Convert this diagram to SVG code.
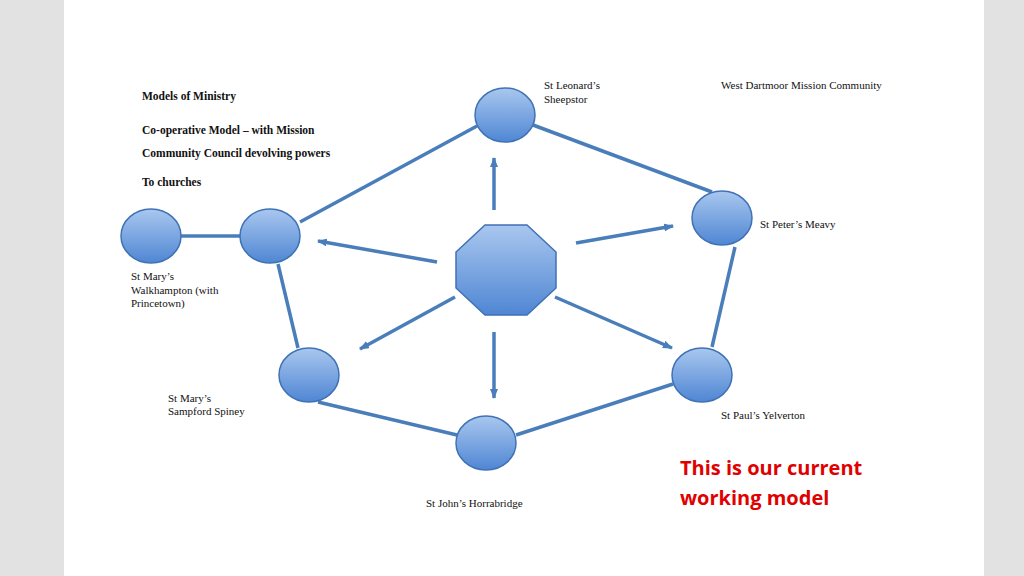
<svg xmlns="http://www.w3.org/2000/svg" width="1024" height="576" viewBox="0 0 1024 576">
<defs>
<linearGradient id="g" x1="0" y1="0" x2="0" y2="1"><stop offset="0" stop-color="#a9c7ef"/><stop offset="1" stop-color="#4f86d3"/></linearGradient>
<marker id="ah" markerWidth="10" markerHeight="8" refX="9" refY="4" orient="auto" markerUnits="userSpaceOnUse" viewBox="0 0 10 8"><path d="M0,0 L10,4 L0,8 z" fill="#4a7ebb"/></marker>
<style>
.n{fill:url(#g);stroke:#3f72b5;stroke-width:1.5}
.e{stroke:#4a7ebb;stroke-width:3.5;fill:none}
.a{stroke:#4a7ebb;stroke-width:3.5;marker-end:url(#ah)}
.t{font-family:"Liberation Serif",serif;font-size:11px;fill:#111}
.b{font-family:"Liberation Serif",serif;font-size:11.5px;font-weight:bold;fill:#111}
.r{font-family:"Open Sans","Liberation Sans",sans-serif;font-size:20px;font-weight:bold;fill:#e00000}
</style>
</defs>
<rect width="1024" height="576" fill="#e2e2e2"/>
<rect x="64" y="0" width="920" height="576" fill="#fff"/>
<g id="connectors">
<line class="e" x1="300" y1="222" x2="477" y2="126"/>
<line class="e" x1="533" y1="125" x2="712" y2="192"/>
<line class="e" x1="735" y1="247" x2="712" y2="347"/>
<line class="e" x1="673" y1="384" x2="516" y2="435"/>
<line class="e" x1="457" y1="435" x2="318" y2="402"/>
<line class="e" x1="298" y1="348" x2="278" y2="264"/>
<line class="e" x1="181" y1="236" x2="240" y2="236"/>
<line class="a" x1="494" y1="210" x2="494" y2="158"/>
<line class="a" x1="576" y1="243" x2="673" y2="226"/>
<line class="a" x1="437" y1="262" x2="318" y2="241"/>
<line class="a" x1="455" y1="297" x2="360" y2="349"/>
<line class="a" x1="494" y1="332" x2="494" y2="398"/>
<line class="a" x1="555" y1="297" x2="672" y2="348"/>
</g>
<g id="center"><polygon class="n" points="485,225 527,225 556,252 556,288 527,315 485,315 456,288 456,252"/></g>
<g id="leonard"><ellipse class="n" cx="505" cy="115" rx="30" ry="27"/><text class="t" x="544" y="89">St Leonard’s</text><text class="t" x="544" y="103">Sheepstor</text></g>
<g id="peter"><ellipse class="n" cx="722" cy="218" rx="30" ry="27"/><text class="t" x="760" y="228">St Peter’s Meavy</text></g>
<g id="paul"><ellipse class="n" cx="702" cy="375" rx="30" ry="27"/><text class="t" x="721" y="419">St Paul’s Yelverton</text></g>
<g id="john"><ellipse class="n" cx="486" cy="443" rx="30" ry="27"/><text class="t" x="426" y="507">St John’s Horrabridge</text></g>
<g id="sampford"><ellipse class="n" cx="309" cy="375" rx="30" ry="27"/><text class="t" x="168" y="402">St Mary’s</text><text class="t" x="168" y="415">Sampford Spiney</text></g>
<g id="walkhampton"><ellipse class="n" cx="270" cy="236" rx="30" ry="27"/><text class="t" x="131" y="280">St Mary’s</text><text class="t" x="131" y="294">Walkhampton (with</text><text class="t" x="131" y="307">Princetown)</text></g>
<g id="left"><ellipse class="n" cx="151" cy="236" rx="30" ry="27"/></g>
<text class="t" x="721" y="89">West Dartmoor Mission Community</text>
<text class="b" x="142" y="100">Models of Ministry</text>
<text class="b" x="142" y="134">Co-operative Model – with Mission</text>
<text class="b" x="142" y="157">Community Council devolving powers</text>
<text class="b" x="142" y="186">To churches</text>
<text class="r" x="680" y="475">This is our current</text>
<text class="r" x="680" y="505">working model</text>
</svg>
